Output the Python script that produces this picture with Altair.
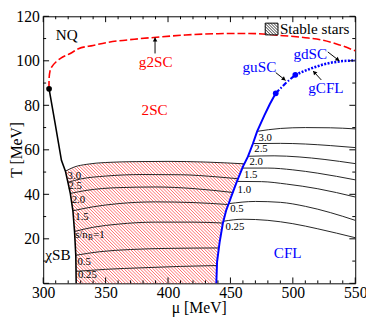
import math
import altair as alt
import pandas as pd

W, H = 319, 273

# ---------------- axis tick values ----------------
x_major = [300, 350, 400, 450, 500, 550]
x_minor = [310, 320, 330, 340, 360, 370, 380, 390, 410, 420, 430, 440,
           460, 470, 480, 490, 510, 520, 530, 540]
y_major = [0, 20, 40, 60, 80, 100, 120]
y_minor = [10, 30, 50, 70, 90, 110]
y_labels = [20, 40, 60, 80, 100, 120]

# ---------------- phase boundaries ----------------
# chiral-symmetry-breaking boundary (black)
xsb_mu = [304.7, 309.5, 314.6, 317.8, 319.8, 321.7, 323.8, 325.1, 326.1, 326.3, 326.4]
xsb_T = [87.4, 72.0, 55.3, 50.4, 45.4, 40.4, 32.6, 23.3, 12.6, 5.4, 0.0]
# NQ / 2SC boundary (red dashed)
nq_mu = [304.6, 304.7, 305.5, 307.3, 310.5, 313.9, 321.7, 328.2, 340, 352, 373, 391,
         414, 440, 465, 490, 510, 522, 535, 550]
nq_T = [87.4, 92.0, 95.5, 97.6, 99.6, 101.1, 103.3, 105.4, 106.9, 108.3, 109.7, 110.6,
        111.6, 112.2, 112.3, 111.4, 110.4, 109.5, 107.6, 104.5]
# 2SC / CFL boundary (blue solid)
cfl_mu = [438.7, 439.3, 441.3, 443.9, 446.5, 450.2, 454.9, 460.1, 464.0, 467.9, 471.4,
          477.1, 481.5, 486.3]
cfl_T = [0.0, 9.7, 18.3, 26.9, 32.6, 38.3, 45.4, 52.6, 56.9, 62.6, 68.3, 75.4, 80.5, 85.4]
# guSC segment (blue dash-dot) and gCFL/gdSC segment (blue dotted)
gusc_mu = [486.3, 494.0, 502.0]
gusc_T = [85.4, 89.8, 93.7]
gcfl_mu = [502.0, 510.0, 516.3, 524.0, 532.0, 540.0, 550.0]
gcfl_T = [93.7, 95.6, 96.9, 98.3, 99.3, 99.9, 100.2]
# special points
crit_mu, crit_T = [304.7], [87.4]
bdot_mu, bdot_T = [486.3, 502.0], [85.4, 93.7]

# ---------------- isentropes s/n_B in the 2SC phase ----------------
a30_mu = [317.8, 325, 335, 350, 375, 400, 430, 461.1]
a30_T = [50.4, 52.3, 53.5, 54.3, 54.7, 54.8, 54.5, 53.7]
a25_mu = [319.8, 330, 350, 380, 410, 440, 456.1]
a25_T = [45.4, 46.9, 48.2, 48.9, 48.8, 47.8, 47.0]
a20_mu = [321.7, 335, 360, 390, 420, 452.2]
a20_T = [40.4, 41.8, 43.0, 43.3, 42.6, 40.8]
a15_mu = [323.8, 340, 360, 390, 420, 448.3]
a15_T = [32.6, 34.4, 35.8, 36.6, 36.3, 35.4]
a10_mu = [325.1, 340, 360, 390, 420, 444.0]
a10_T = [23.3, 25.2, 26.6, 27.5, 27.5, 27.1]
a05_mu = [326.1, 345, 370, 400, 440.8]
a05_T = [12.6, 14.2, 15.2, 15.7, 15.9]
a025_mu = [326.3, 350, 380, 410, 439.2]
a025_T = [5.4, 6.3, 7.0, 7.6, 8.0]

# ---------------- isentropes in the CFL phase ----------------
b30_mu = [471.4, 490, 510, 530, 550]
b30_T = [68.3, 69.6, 70.0, 69.9, 69.4]
b25_mu = [468.0, 490, 510, 530, 550]
b25_T = [62.8, 62.9, 62.6, 61.9, 61.0]
b20_mu = [464.2, 485, 505, 525, 550]
b20_T = [57.1, 57.3, 56.8, 55.7, 53.8]
b15_mu = [459.5, 480, 500, 520, 550]
b15_T = [51.8, 51.8, 51.0, 49.5, 46.5]
b10_mu = [455.2, 475, 495, 520, 550]
b10_T = [45.8, 45.7, 44.6, 42.5, 38.8]
b05_mu = [448.6, 470, 490, 510, 530, 550]
b05_T = [35.8, 36.8, 36.4, 34.6, 31.8, 28.3]
b025_mu = [444.4, 460, 480, 500, 520, 550]
b025_T = [27.9, 28.8, 28.3, 26.8, 24.5, 20.5]

# ---------------- texts ----------------
region_txt = ["NQ", "g2SC", "2SC", "guSC", "gdSC", "gCFL", "CFL", "χSB"]
region_mu = [318.8, 390.1, 389.3, 473.2, 514.0, 526.5, 495.9, 311.8]
region_T = [111.4, 99.4, 78.0, 97.3, 102.9, 87.9, 13.7, 12.9]
region_col = ["black", "#ff0000", "#ff0000", "#0000ff", "#0000ff", "#0000ff", "#0000ff", "black"]

lab2sc_txt = ["3.0", "2.5", "2.0", "1.5", "0.5", "0.25"]
lab2sc_mu = [324.9, 325.6, 328.2, 331.1, 332.8, 335.4]
lab2sc_T = [48.3, 43.5, 37.4, 30.0, 9.6, 3.7]
labsn_mu, labsn_T = [325.6], [21.5]

labcfl_txt = ["3.0", "2.5", "2.0", "1.5", "1.0", "0.5", "0.25"]
labcfl_mu = [477.9, 474.5, 470.6, 466.3, 461.1, 455.2, 453.6]
labcfl_T = [65.4, 60.2, 54.5, 48.8, 42.1, 33.3, 25.2]

# arrows: tail -> head
arr_mu = [389.6, 486.3, 528.0, 522.8]
arr_T = [103.3, 94.7, 104.0, 91.4]
arr_mu2 = [389.6, 494.1, 537.2, 516.3]
arr_T2 = [110.4, 91.2, 100.0, 95.4]

legend_label = "Stable stars"

# ---------------- helpers ----------------
SERIF = "Liberation Serif"
SX, SY = W / 250.0, H / 120.0
xs = alt.Scale(domain=[300, 550], nice=False, zero=False)
ys = alt.Scale(domain=[0, 120], nice=False, zero=False)
xax = alt.Axis(values=x_major, title=None, format="d", labelPadding=2,
               labelFlush=False, labelOverlap=False)
yax = alt.Axis(values=y_labels, title=None, format="d", labelPadding=4,
               labelFlush=False, labelOverlap=False)


def X(f):
    return alt.X(f, type="quantitative", scale=xs, axis=xax)


def Y(f):
    return alt.Y(f, type="quantitative", scale=ys, axis=yax)


def series(pairs):
    rows = []
    for name, mus, ts in pairs:
        for m, t in zip(mus, ts):
            rows.append({"id": name, "mu": m, "T": t})
    return pd.DataFrame(rows)


layers = []

# ---- hatched (stable stars) region in the 2SC phase ----
poly = [(m, t) for m, t in zip(xsb_mu, xsb_T) if t <= a30_T[0]][::-1]
poly += list(zip(a30_mu, a30_T))[1:]
poly += [(m, t) for m, t in zip(cfl_mu, cfl_T) if t < a30_T[-1]][::-1]
pp = [((m - 300) * SX, t * SY) for m, t in poly]
svals = [u + v for u, v in pp]
segs = []
c = min(svals) + 1.0
while c < max(svals):
    pts = []
    for i in range(len(pp)):
        u1, v1 = pp[i]
        u2, v2 = pp[(i + 1) % len(pp)]
        f1, f2 = u1 + v1 - c, u2 + v2 - c
        if (f1 < 0) != (f2 < 0):
            tt = f1 / (f1 - f2)
            pts.append((u1 + tt * (u2 - u1), v1 + tt * (v2 - v1)))
    pts.sort()
    for k in range(0, len(pts) - 1, 2):
        (ua, va), (ub, vb) = pts[k], pts[k + 1]
        segs.append({"mu": 300 + ua / SX, "T": va / SY, "mu2": 300 + ub / SX, "T2": vb / SY})
    c += 3.3
hatch = alt.Chart(pd.DataFrame(segs)).mark_rule(color="#ff2a2a", strokeWidth=0.7).encode(
    x=X("mu"), y=Y("T"), x2="mu2", y2="T2")
layers.append(hatch)

# ---- isentropes ----
iso_df = series([
    ("a30", a30_mu, a30_T), ("a25", a25_mu, a25_T), ("a20", a20_mu, a20_T),
    ("a15", a15_mu, a15_T), ("a10", a10_mu, a10_T), ("a05", a05_mu, a05_T),
    ("a025", a025_mu, a025_T),
    ("b30", b30_mu, b30_T), ("b25", b25_mu, b25_T), ("b20", b20_mu, b20_T),
    ("b15", b15_mu, b15_T), ("b10", b10_mu, b10_T), ("b05", b05_mu, b05_T),
    ("b025", b025_mu, b025_T),
])
layers.append(alt.Chart(iso_df).mark_line(color="#222222", strokeWidth=1, interpolate="monotone").encode(
    x=X("mu"), y=Y("T"), detail="id:N"))

# ---- phase boundaries ----
layers.append(alt.Chart(series([("nq", nq_mu, nq_T)])).mark_line(
    color="#ff0000", strokeWidth=1.6, strokeDash=[8, 3], interpolate="monotone").encode(x=X("mu"), y=Y("T")))
layers.append(alt.Chart(series([("xsb", xsb_mu, xsb_T)])).mark_line(
    color="black", strokeWidth=1.6).encode(x=X("mu"), y=Y("T")))
layers.append(alt.Chart(series([("cfl", cfl_mu, cfl_T)])).mark_line(
    color="#0000ff", strokeWidth=2).encode(x=X("mu"), y=Y("T")))
layers.append(alt.Chart(series([("gusc", gusc_mu, gusc_T)])).mark_line(
    color="#0000ff", strokeWidth=2.2, strokeDash=[5, 2, 1.5, 2]).encode(x=X("mu"), y=Y("T")))
layers.append(alt.Chart(series([("gcfl", gcfl_mu, gcfl_T)])).mark_line(
    color="#0000ff", strokeWidth=2.6, strokeDash=[2, 1.5]).encode(x=X("mu"), y=Y("T")))

# ---- dots ----
layers.append(alt.Chart(pd.DataFrame({"mu": crit_mu, "T": crit_T})).mark_circle(
    color="black", size=34, opacity=1).encode(x=X("mu"), y=Y("T")))
layers.append(alt.Chart(pd.DataFrame({"mu": bdot_mu, "T": bdot_T})).mark_circle(
    color="#0000ff", size=34, opacity=1).encode(x=X("mu"), y=Y("T")))

# ---- arrows ----
arr_df = pd.DataFrame({"mu": arr_mu, "T": arr_T, "mu2": arr_mu2, "T2": arr_T2})
angs, hmu, hT = [], [], []
for m1, t1, m2, t2 in zip(arr_mu, arr_T, arr_mu2, arr_T2):
    dx, dy = (m2 - m1) * SX, -(t2 - t1) * SY
    ang = math.degrees(math.atan2(dx, -dy)) % 360
    L = math.hypot(dx, dy)
    angs.append(ang)
    hmu.append(m2 - 2.5 * (dx / L) / SX)
    hT.append(t2 + 2.5 * (dy / L) / SY)
arr_df["ang"], arr_df["hmu"], arr_df["hT"] = angs, hmu, hT
layers.append(alt.Chart(arr_df).mark_rule(color="black", strokeWidth=1).encode(
    x=X("mu"), y=Y("T"), x2="mu2", y2="T2"))
layers.append(alt.Chart(arr_df).mark_point(shape="triangle", filled=True, color="black",
                                           size=22, opacity=1).encode(
    x=X("hmu"), y=Y("hT"), angle=alt.Angle("ang:Q", scale=None)))

# ---- texts ----
reg_df = pd.DataFrame({"txt": region_txt, "mu": region_mu, "T": region_T, "col": region_col})
layers.append(alt.Chart(reg_df).mark_text(font=SERIF, fontSize=15.5, baseline="middle").encode(
    x=X("mu"), y=Y("T"), text="txt:N", color=alt.Color("col:N", scale=None)))
l1 = pd.DataFrame({"txt": lab2sc_txt + labcfl_txt, "mu": lab2sc_mu + labcfl_mu, "T": lab2sc_T + labcfl_T})
layers.append(alt.Chart(l1).mark_text(font=SERIF, fontSize=11, baseline="middle", color="black").encode(
    x=X("mu"), y=Y("T"), text="txt:N"))
sn = pd.DataFrame({"mu": labsn_mu, "T": labsn_T})
layers.append(alt.Chart(sn).mark_text(font=SERIF, fontSize=11, baseline="middle", align="left",
                                      color="black", text="s/n").encode(x=X("mu"), y=Y("T")))
layers.append(alt.Chart(sn).mark_text(font=SERIF, fontSize=7.5, baseline="middle", align="left",
                                      color="black", text="B", dx=13, dy=3).encode(x=X("mu"), y=Y("T")))
layers.append(alt.Chart(sn).mark_text(font=SERIF, fontSize=11, baseline="middle", align="left",
                                      color="black", text="=1", dx=18.5).encode(x=X("mu"), y=Y("T")))

# ---- axis titles ----
layers.append(alt.Chart(pd.DataFrame({"t": ["μ [MeV]"]})).mark_text(
    font=SERIF, fontSize=16, baseline="middle", color="black").encode(
    text="t:N", x=alt.value(W / 2), y=alt.value(H + 25)))
layers.append(alt.Chart(pd.DataFrame({"t": ["T [MeV]"]})).mark_text(
    font=SERIF, fontSize=16, baseline="middle", color="black", angle=270).encode(
    text="t:N", x=alt.value(-27), y=alt.value(H / 2)))

# ---- legend (stable stars) ----
bx0, bx1, by0, by1 = 227, 240, 7, 19
layers.append(alt.Chart(pd.DataFrame({"t": [legend_label]})).mark_text(
    font=SERIF, fontSize=15.5, baseline="middle", align="left", color="black").encode(
    text="t:N", x=alt.value(bx1 + 2), y=alt.value((by0 + by1) / 2)))
layers.append(alt.Chart(pd.DataFrame({"t": [0]})).mark_rect(
    fill="white", stroke="black", strokeWidth=1).encode(
    x=alt.value(bx0), x2=alt.value(bx1), y=alt.value(by0), y2=alt.value(by1)))
cc = bx0 - by1 + 2.5
while cc < bx1 - by0:
    ya, yb = max(by0, bx0 - cc), min(by1, bx1 - cc)
    if yb - ya > 0.5:
        layers.append(alt.Chart(pd.DataFrame({"t": [0]})).mark_rule(color="black", strokeWidth=0.8).encode(
            x=alt.value(ya + cc), y=alt.value(ya), x2=alt.value(yb + cc), y2=alt.value(yb)))
    cc += 3.0

# ---- inward ticks on all four sides ----
for vals, L in [(x_major, 6), (x_minor, 3)]:
    d = pd.DataFrame({"v": vals})
    layers.append(alt.Chart(d).mark_rule(color="black", strokeWidth=1).encode(
        x=X("v"), y=alt.value(H), y2=alt.value(H - L)))
    layers.append(alt.Chart(d).mark_rule(color="black", strokeWidth=1).encode(
        x=X("v"), y=alt.value(0), y2=alt.value(L)))
for vals, L in [(y_major, 6), (y_minor, 3)]:
    d = pd.DataFrame({"v": vals})
    layers.append(alt.Chart(d).mark_rule(color="black", strokeWidth=1).encode(
        y=Y("v"), x=alt.value(0), x2=alt.value(L)))
    layers.append(alt.Chart(d).mark_rule(color="black", strokeWidth=1).encode(
        y=Y("v"), x=alt.value(W), x2=alt.value(W - L)))

chart = alt.layer(*layers).properties(
    width=W, height=H,
    autosize=alt.AutoSizeParams(type="none"),
    padding={"left": 36, "top": 5, "right": 11, "bottom": 34},
    background="white",
).configure_view(stroke="black", strokeWidth=1).configure_axis(
    grid=False, domain=False, ticks=False, tickSize=0,
    labelFont=SERIF, labelFontSize=16, labelColor="black",
)

chart.save("out.html", embed_options={"renderer": "svg", "actions": False})
